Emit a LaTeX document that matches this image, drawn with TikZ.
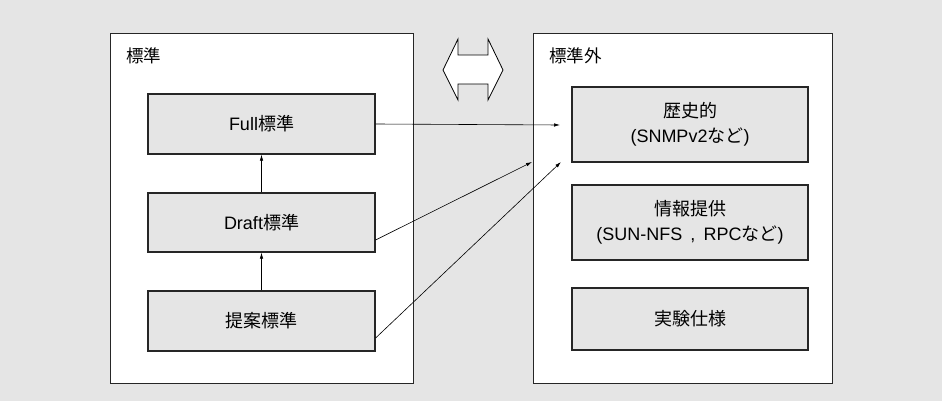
\documentclass[tikz,border=0pt]{standalone}
\usepackage{fontspec}
\setmainfont{Liberation Sans}
\newfontfamily\jp{Noto Sans CJK JP}
\usetikzlibrary{arrows.meta}
\begin{document}
\begin{tikzpicture}[x=1pt,y=-1pt,
  panel/.style={draw=black!85,line width=1pt,fill=white},
  stdbox/.style={draw=black!85,line width=1.2pt,fill=black!10,align=center,
    font=\fontsize{18}{25}\selectfont},
  title/.style={anchor=north west,inner sep=0pt,font=\fontsize{17.5}{20}\selectfont\jp},
  link/.style={line width=0.6pt,-{Latex[length=6pt,width=3.5pt]}}]
% canvas
\fill[black!10] (0,0) rectangle (942,401);
\useasboundingbox (0,0) rectangle (942,401);
% two panels
\draw[panel] (110,34) rectangle (413,383);
\draw[panel] (533,34) rectangle (832,383);
\node[title] (tl) at (126,48) {標準};
\node[title] (tr) at (549,48) {標準外};
% standards track boxes
\node[stdbox,minimum width=227pt,minimum height=60pt] (full) at (261.5,124) {Full{\jp 標準}};
\node[stdbox,minimum width=227pt,minimum height=59pt] (draft) at (261.5,222.5) {Draft{\jp 標準}};
\node[stdbox,minimum width=227pt,minimum height=60pt] (prop) at (261.5,321) {{\jp 提案標準}};
% non-standard boxes
\node[stdbox,minimum width=236pt,minimum height=75pt] (hist) at (690,124.5) {{\jp 歴史的}\\(SNMPv2{\jp など})};
\node[stdbox,minimum width=236pt,minimum height=75pt] (info) at (690,222.5) {{\jp 情報提供}\\(SUN-NFS\hspace{0.45em},\hspace{0.45em}RPC{\jp など})};
\node[stdbox,minimum width=236pt,minimum height=62pt] (exp) at (690,319) {{\jp 実験仕様}};
% two-way arrow between the panels
\draw[line width=0.8pt,fill=white]
  (443,70) -- (458,39) -- (458,55) -- (488,55) -- (488,39) -- (503,70)
  -- (488,100) -- (488,84) -- (458,84) -- (458,100) -- cycle;
% connectors
\coordinate (h1) at (560,125);
\coordinate (h2) at (532,162);
\coordinate (h3) at (561,162);
\draw[link] (draft.north) -- (full.south);
\draw[link] (prop.north) -- (draft.south);
\draw[link] (full.east) -- (h1);
\draw[link] (draft.east |- 0,240) -- (h2);
\draw[link] (prop.east |- 0,338) -- (h3);
\end{tikzpicture}
\end{document}
